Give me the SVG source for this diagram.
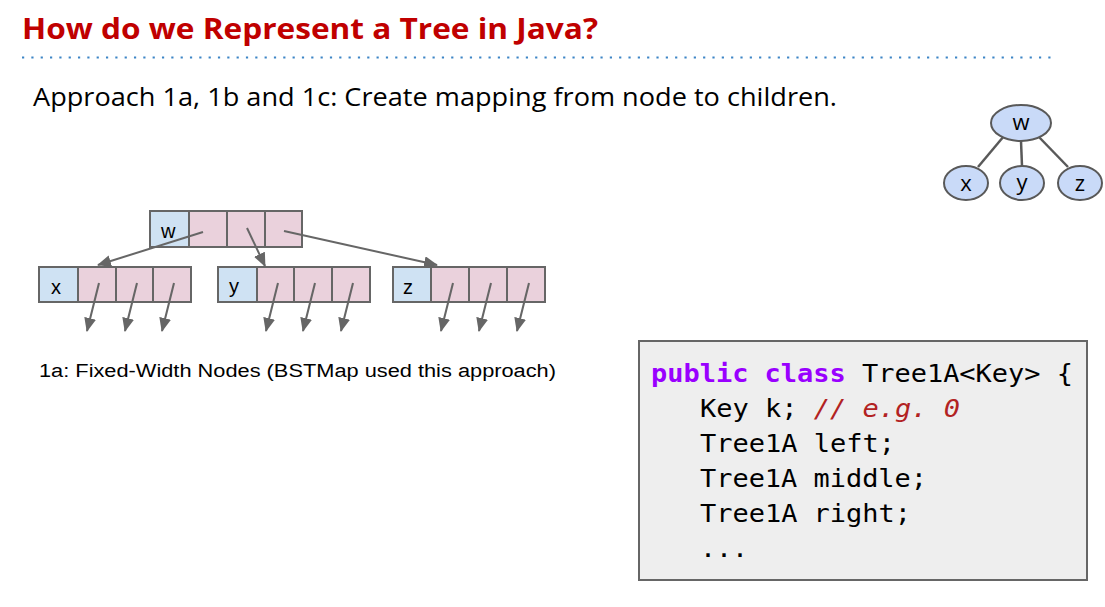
<svg xmlns="http://www.w3.org/2000/svg" width="1105" height="607" viewBox="0 0 1105 607">
  <style>
    .title { font-family: "Open Sans", "Liberation Sans", sans-serif; font-weight: bold; font-size: 29px; fill: #c00000; }
    .sub { font-family: "Open Sans", "Liberation Sans", sans-serif; font-size: 26px; fill: #000; }
    .cap { font-family: "Liberation Sans", Arial, sans-serif; font-size: 18px; fill: #000; }
    .key { fill: #cfe2f3; stroke: #666; stroke-width: 2; }
    .ptr { fill: #ead1dc; stroke: #666; stroke-width: 2; }
    .lbl { font-family: "Liberation Sans", Arial, sans-serif; font-size: 20px; fill: #000; }
    .tnode { fill: #c9daf8; stroke: #595959; stroke-width: 2; }
    .tlbl { font-family: "Open Sans", "Liberation Sans", sans-serif; font-size: 22px; fill: #000; text-anchor: middle; }
    .edge { stroke: #595959; stroke-width: 2.5; fill: none; }
    .arrow { stroke: #666; stroke-width: 2; fill: none; marker-end: url(#ah); }
    .code { font-family: "DejaVu Sans Mono", "Liberation Mono", monospace; font-size: 24px; fill: #000; }
    .kw { fill: #9900ff; font-weight: bold; }
    .cm { fill: #b22222; font-style: italic; }
  </style>
  <defs>
    <marker id="ah" markerWidth="14" markerHeight="12" refX="13" refY="6" orient="auto" markerUnits="userSpaceOnUse" viewBox="0 0 14 12">
      <path d="M0,0 L14,6 L0,12 z" fill="#666"/>
    </marker>
  </defs>

  <rect width="1105" height="607" fill="#fff"/>

  <!-- heading -->
  <text class="title" x="22" y="39" textLength="576" lengthAdjust="spacingAndGlyphs">How do we Represent a Tree in Java?</text>
  <line x1="22" y1="57.5" x2="1056" y2="57.5" stroke="#3d85c6" stroke-width="2.2" stroke-dasharray="2.2 7.13"/>
  <text class="sub" x="33" y="106" textLength="804" lengthAdjust="spacingAndGlyphs">Approach 1a, 1b and 1c: Create mapping from node to children.</text>

  <!-- small tree -->
  <g id="tree-edges">
    <line class="edge" x1="1004" y1="136" x2="978" y2="167"/>
    <line class="edge" x1="1021" y1="141" x2="1022" y2="166"/>
    <line class="edge" x1="1038" y1="136" x2="1068" y2="167"/>
  </g>
  <g id="tree-w"><ellipse class="tnode" cx="1021" cy="123" rx="30" ry="18"/><text class="tlbl" x="1021" y="130">w</text></g>
  <g id="tree-x"><ellipse class="tnode" cx="966" cy="183" rx="22" ry="17"/><text class="tlbl" x="966" y="191">x</text></g>
  <g id="tree-y"><ellipse class="tnode" cx="1022" cy="183" rx="22" ry="17"/><text class="tlbl" x="1022" y="190">y</text></g>
  <g id="tree-z"><ellipse class="tnode" cx="1080" cy="183" rx="22" ry="17"/><text class="tlbl" x="1080" y="191">z</text></g>

  <!-- fixed-width nodes -->
  <g id="node-w">
    <rect class="key" x="150" y="211" width="39" height="36"/>
    <rect class="ptr" x="189" y="211" width="38" height="36"/>
    <rect class="ptr" x="227" y="211" width="38" height="36"/>
    <rect class="ptr" x="265" y="211" width="37" height="36"/>
    <text class="lbl" x="161" y="238">w</text>
  </g>
  <g id="node-x">
    <rect class="key" x="39" y="267" width="39" height="35"/>
    <rect class="ptr" x="78" y="267" width="38" height="35"/>
    <rect class="ptr" x="116" y="267" width="37" height="35"/>
    <rect class="ptr" x="153" y="267" width="38" height="35"/>
    <text class="lbl" x="51" y="294">x</text>
  </g>
  <g id="node-y">
    <rect class="key" x="218" y="267" width="39" height="35"/>
    <rect class="ptr" x="257" y="267" width="37" height="35"/>
    <rect class="ptr" x="294" y="267" width="38" height="35"/>
    <rect class="ptr" x="332" y="267" width="38" height="35"/>
    <text class="lbl" x="229" y="293">y</text>
  </g>
  <g id="node-z">
    <rect class="key" x="393" y="267" width="38" height="35"/>
    <rect class="ptr" x="431" y="267" width="38" height="35"/>
    <rect class="ptr" x="469" y="267" width="38" height="35"/>
    <rect class="ptr" x="507" y="267" width="38" height="35"/>
    <text class="lbl" x="403" y="294">z</text>
  </g>

  <g id="connectors">
    <line class="arrow" x1="203" y1="232" x2="98" y2="265"/>
    <line class="arrow" x1="247" y1="228" x2="265" y2="266"/>
    <line class="arrow" x1="284" y1="231" x2="437" y2="265"/>
    <line class="arrow" x1="99" y1="283" x2="87" y2="331"/>
    <line class="arrow" x1="137" y1="283" x2="125" y2="331"/>
    <line class="arrow" x1="174" y1="283" x2="162" y2="331"/>
    <line class="arrow" x1="278" y1="283" x2="266" y2="331"/>
    <line class="arrow" x1="315" y1="283" x2="303" y2="331"/>
    <line class="arrow" x1="353" y1="283" x2="341" y2="331"/>
    <line class="arrow" x1="453" y1="283" x2="441" y2="331"/>
    <line class="arrow" x1="491" y1="283" x2="479" y2="331"/>
    <line class="arrow" x1="529" y1="283" x2="517" y2="331"/>
  </g>

  <text class="cap" x="39" y="377" textLength="517" lengthAdjust="spacingAndGlyphs">1a: Fixed-Width Nodes (BSTMap used this approach)</text>

  <!-- code listing -->
  <g id="code">
    <rect x="639" y="341" width="448" height="239" fill="#eeeeee" stroke="#666" stroke-width="2"/>
    <text class="code" x="651" y="382" textLength="422" lengthAdjust="spacingAndGlyphs"><tspan class="kw">public</tspan> <tspan class="kw">class</tspan> Tree1A&lt;Key&gt; {</text>
    <text class="code" x="700" y="417" textLength="260" lengthAdjust="spacingAndGlyphs">Key k; <tspan class="cm">// e.g. 0</tspan></text>
    <text class="code" x="700" y="452" textLength="195" lengthAdjust="spacingAndGlyphs">Tree1A left;</text>
    <text class="code" x="700" y="487" textLength="227" lengthAdjust="spacingAndGlyphs">Tree1A middle;</text>
    <text class="code" x="700" y="522" textLength="211" lengthAdjust="spacingAndGlyphs">Tree1A right;</text>
    <text class="code" x="700" y="557" textLength="48" lengthAdjust="spacingAndGlyphs">...</text>
  </g>
</svg>
